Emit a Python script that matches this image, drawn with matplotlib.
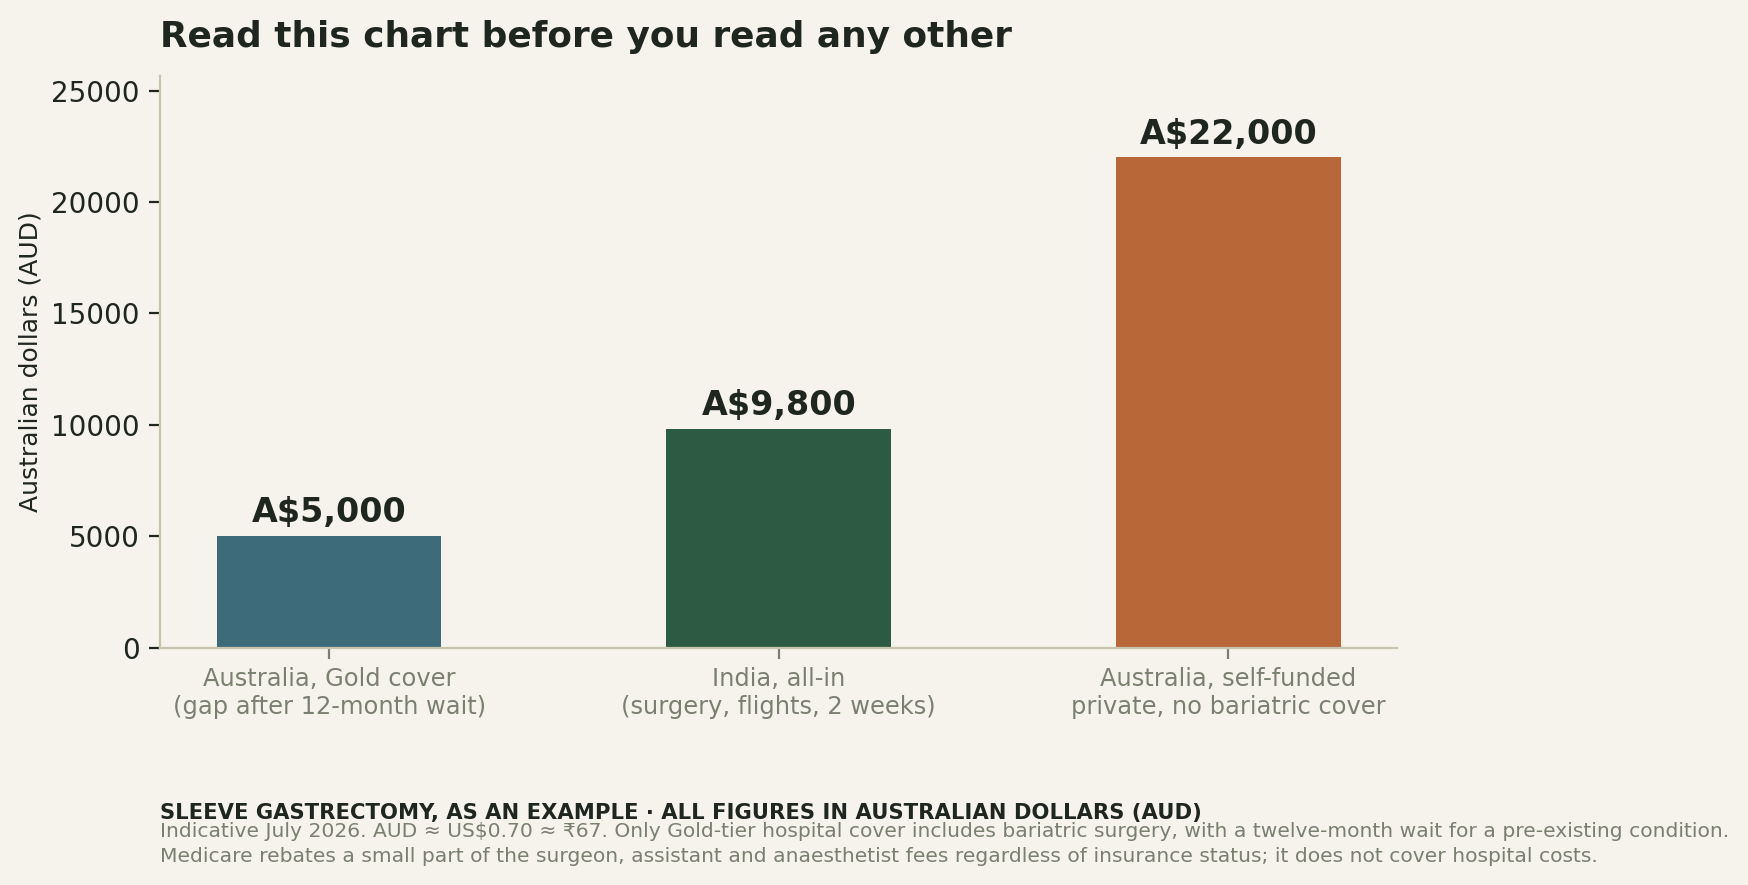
import matplotlib
matplotlib.use("Agg")
import matplotlib.pyplot as plt

BG = "#f6f3ec"
INK = "#1f2620"
MUTED = "#7a8070"
SPINE = "#c8c4ae"

categories = ["Australia, Gold cover\n(gap after 12-month wait)",
              "India, all-in\n(surgery, flights, 2 weeks)",
              "Australia, self-funded\nprivate, no bariatric cover"]
costs_aud = [5000, 9800, 22000]
value_labels = ["A$5,000", "A$9,800", "A$22,000"]
bar_colors = ["#3e6b79", "#2d5a43", "#b86739"]

title = "Read this chart before you read any other"
footer_head = "SLEEVE GASTRECTOMY, AS AN EXAMPLE \u00b7 ALL FIGURES IN AUSTRALIAN DOLLARS (AUD)"
footer_lines = [
    "Indicative July 2026. AUD \u2248 US$0.70 \u2248 \u20b967. Only Gold-tier hospital cover includes "
    "bariatric surgery, with a twelve-month wait for a pre-existing condition.",
    "Medicare rebates a small part of the surgeon, assistant and anaesthetist fees regardless "
    "of insurance status; it does not cover hospital costs.",
]

fig = plt.figure(figsize=(8.74, 4.425), dpi=200, facecolor=BG)
ax = fig.add_axes([0.0918, 0.268, 0.7074, 0.646])
ax.set_facecolor(BG)

x = list(range(len(categories)))
bars = ax.bar(x, costs_aud, width=0.5, color=bar_colors)
for b, lab in zip(bars, value_labels):
    ax.annotate(lab, (b.get_x() + b.get_width() / 2, b.get_height()),
                xytext=(0, 2.5), textcoords="offset points",
                ha="center", va="bottom", fontsize=12, fontweight="bold", color=INK)

ax.set_ylim(0, 25650)
ax.set_xticks(x)
ax.set_xticklabels(categories, fontsize=8.7, color=MUTED)
ax.tick_params(axis="x", colors=MUTED, length=4, pad=3)
ax.tick_params(axis="y", colors=INK, labelsize=10, length=4)
ax.set_ylabel("Australian dollars (AUD)", fontsize=9, color=INK, labelpad=3)
for s in ("top", "right"):
    ax.spines[s].set_visible(False)
for s in ("left", "bottom"):
    ax.spines[s].set_color(SPINE)
    ax.spines[s].set_linewidth(0.8)

fig.text(0.0918, 0.9585, title, fontsize=12.93, fontweight="bold", color=INK,
         ha="left", va="center")
fig.text(0.0918, 0.0817, footer_head, fontsize=7.63, fontweight="bold", color=INK,
         ha="left", va="center")
fig.text(0.0918, 0.061, footer_lines[0], fontsize=7.3, color=MUTED, ha="left", va="center")
fig.text(0.0918, 0.0317, footer_lines[1], fontsize=7.3, color=MUTED, ha="left", va="center")

fig.savefig("out.png", dpi=200, facecolor=BG)
